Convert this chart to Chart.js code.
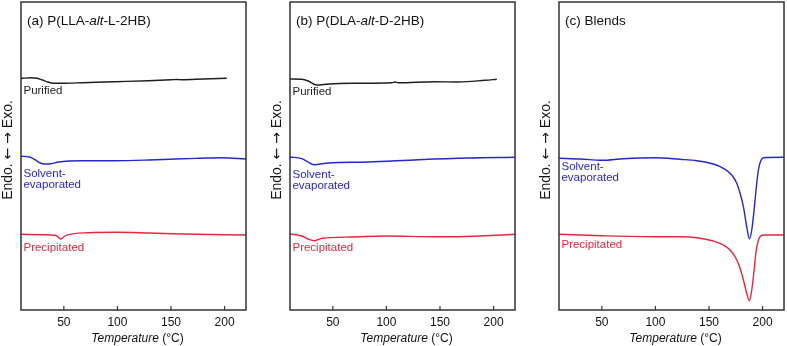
<!DOCTYPE html>
<html><head><meta charset="utf-8">
<script src="https://cdn.jsdelivr.net/npm/chart.js@4/dist/chart.umd.min.js"></script>
<style>
html,body{margin:0;padding:0;background:#fff;width:787px;height:346px;overflow:hidden}
canvas{position:absolute;top:0}
</style></head><body>
<canvas id="ca" width="248" height="346" style="left:0px"></canvas>
<canvas id="cb" width="248" height="346" style="left:269px"></canvas>
<canvas id="cc" width="248" height="346" style="left:538px"></canvas>
<script>
// ---- data (temperature in °C, heat flow in arbitrary offset units; up = exo) ----
const tickTemps = [50, 100, 150, 200];

// (a) P(LLA-alt-L-2HB)
const aPurifiedT = [10, 20, 25, 30, 35, 40, 50, 67, 98, 129, 150, 155, 160, 180, 202];
const aPurifiedY = [231.7, 232.2, 231.7, 230, 228, 226.8, 226.8, 227.3, 228.3, 229.3, 230.2, 230.5, 230.3, 231, 231.7];
const aSolventT = [10, 18, 23, 28, 32, 38, 45, 67, 98, 129, 154, 176, 197, 220];
const aSolventY = [153.7, 153, 150.3, 147, 146, 146.3, 148, 149.3, 149.3, 150, 151, 151.7, 152.3, 151];
const aPrecipT = [10, 29, 42, 45, 47, 49.5, 54, 73, 98, 129, 160, 220];
const aPrecipY = [75.7, 75.3, 74.7, 72.7, 71, 73, 75.3, 77.3, 77.7, 77, 76, 75];

// (b) P(DLA-alt-D-2HB)
const bPurifiedT = [10, 21, 27, 35, 46, 68, 105, 108, 111, 145, 167, 192, 203];
const bPurifiedY = [231, 230.7, 229, 225, 226, 226.7, 227.3, 228, 227.3, 228.3, 228, 229.7, 230.7];
const bSolventT = [10, 21, 27, 32, 46, 83, 130, 176, 220];
const bSolventY = [153, 151.3, 148, 145.3, 147, 148, 150.3, 152, 152.7];
const bPrecipT = [10, 21, 27, 33, 40, 68, 99, 145, 167, 220];
const bPrecipY = [76, 74, 71, 69.3, 71.7, 73, 74, 73.3, 73.3, 75.7];

// (c) Blends
const cSolventT = [10, 30, 50, 70, 100, 123, 138.6, 154, 163.4, 171.2, 175.9, 179, 182.1, 185.2, 187.7, 189.9, 192.1, 193.9, 196.1, 198.3, 200.8, 220];
const cSolventY = [151.7, 151, 149.7, 151.3, 152.3, 150.7, 149.3, 146, 141.7, 135, 126.7, 116.7, 103.3, 83.3, 71, 80, 100, 120, 140, 149.3, 152.3, 152.7];
const cPrecipT = [10, 50, 100, 123, 138.6, 154, 163.4, 171.2, 175.9, 179, 182.1, 185.2, 187.7, 189.9, 192.1, 193.9, 196.1, 198.3, 200.8, 220];
const cPrecipY = [75.7, 74.3, 73.3, 73.3, 72.3, 69, 65, 58.3, 50, 41.7, 30, 16.7, 9.3, 20, 40, 58.3, 70, 74, 75, 75];

const panelTitles = [
  [['(a) P(LLA-', false], ['alt', true], ['-L-2HB)', false]],
  [['(b) P(DLA-', false], ['alt', true], ['-D-2HB)', false]],
  [['(c) Blends', false]]
];
const seriesNames = ['Purified', 'Solvent-', 'evaporated', 'Precipitated'];
const xTitle = [['Temperature', true], [' (\u00B0C)', false]];

// ---- styling ----
const FONT = "'Liberation Sans', Arial, Helvetica, sans-serif";
const ARROWFONT = "'DejaVu Sans', sans-serif";
const BLACK = '#1e1e1e', BLUE = '#2626cc', RED = '#e4283f';
// y-axis title parts: [text, italic, fontFamily]
const yTitle = [['Endo. ', false, FONT], ['\u2190', false, ARROWFONT], [' ', false, FONT], ['\u2192', false, ARROWFONT], [' Exo.', false, FONT]];

function mk(T, Y) { return T.map((t, i) => ({ x: t, y: Y[i] })); }
function ds(T, Y, color) {
  return { data: mk(T, Y), borderColor: color, borderWidth: 1.4, pointRadius: 0,
           cubicInterpolationMode: 'monotone', fill: false };
}

function drawRich(ctx, parts, x, y, size, align) {
  let total = 0;
  const fontOf = p => (p[1] ? 'italic ' : '') + size + 'px ' + (p[2] || FONT);
  const widths = parts.map(p => {
    ctx.font = fontOf(p);
    const w = ctx.measureText(p[0]).width; total += w; return w;
  });
  let cx = align === 'center' ? x - total / 2 : x;
  parts.forEach((p, i) => {
    ctx.font = fontOf(p);
    ctx.fillText(p[0], cx, y); cx += widths[i];
  });
}

function makeChart(id, datasets, title, labels) {
  const deco = {
    id: 'deco',
    afterDatasetsDraw(chart) {
      const { ctx, chartArea: a, scales } = chart;
      ctx.save();
      ctx.strokeStyle = '#333'; ctx.lineWidth = 1.5;
      ctx.strokeRect(a.left, a.top, a.right - a.left, a.bottom - a.top);
      ctx.lineWidth = 1.2;
      tickTemps.forEach(v => {
        const px = scales.x.getPixelForValue(v);
        ctx.beginPath(); ctx.moveTo(px, a.bottom); ctx.lineTo(px, a.bottom - 4); ctx.stroke();
      });
      ctx.textBaseline = 'alphabetic'; ctx.textAlign = 'left';
      ctx.fillStyle = '#111';
      drawRich(ctx, title, a.left + 6, a.top + 23, 13.5, 'left');
      drawRich(ctx, xTitle, (a.left + a.right) / 2 + 4, 341.5, 12, 'center');
      // rotated y-axis title
      ctx.save();
      ctx.translate(a.left - 13, (a.top + a.bottom) / 2 - 6);
      ctx.rotate(-Math.PI / 2);
      ctx.textBaseline = 'middle';
      drawRich(ctx, yTitle, 0, 0, 14, 'center');
      ctx.restore();
      labels.forEach(l => {
        ctx.fillStyle = l.color;
        ctx.font = '11.5px ' + FONT;
        ctx.fillText(l.text, scales.x.getPixelForValue(l.x), scales.y.getPixelForValue(l.y));
      });
      ctx.restore();
    }
  };
  return new Chart(document.getElementById(id), {
    type: 'line',
    data: { datasets },
    options: {
      responsive: false, animation: false,
      layout: { padding: { left: 0, right: 2, top: 2, bottom: 0 } },
      plugins: { legend: { display: false }, tooltip: { enabled: false } },
      scales: {
        x: {
          type: 'linear', min: 10, max: 220,
          grid: { display: false, drawTicks: false }, border: { display: false },
          afterBuildTicks: s => { s.ticks = tickTemps.map(v => ({ value: v })); },
          ticks: { font: { family: FONT, size: 12 }, color: '#111', padding: 5, maxRotation: 0, autoSkip: false },
          afterFit: s => { s.height = 36; }
        },
        y: {
          min: 0, max: 308,
          grid: { display: false, drawTicks: false }, border: { display: false },
          ticks: { display: false },
          afterFit: s => { s.width = 21; }
        }
      }
    },
    plugins: [deco]
  });
}

makeChart('ca', [ds(aPurifiedT, aPurifiedY, BLACK), ds(aSolventT, aSolventY, BLUE), ds(aPrecipT, aPrecipY, RED)],
  panelTitles[0],
  [{ text: seriesNames[0], x: 12.3, y: 216, color: BLACK },
   { text: seriesNames[1], x: 12.3, y: 133.5, color: BLUE },
   { text: seriesNames[2], x: 12.3, y: 122, color: BLUE },
   { text: seriesNames[3], x: 12.3, y: 59, color: RED }]);
makeChart('cb', [ds(bPurifiedT, bPurifiedY, BLACK), ds(bSolventT, bSolventY, BLUE), ds(bPrecipT, bPrecipY, RED)],
  panelTitles[1],
  [{ text: seriesNames[0], x: 12.3, y: 215.5, color: BLACK },
   { text: seriesNames[1], x: 12.3, y: 132.5, color: BLUE },
   { text: seriesNames[2], x: 12.3, y: 121.5, color: BLUE },
   { text: seriesNames[3], x: 12.3, y: 59, color: RED }]);
makeChart('cc', [ds(cSolventT, cSolventY, BLUE), ds(cPrecipT, cPrecipY, RED)],
  panelTitles[2],
  [{ text: seriesNames[1], x: 12.3, y: 140, color: BLUE },
   { text: seriesNames[2], x: 12.3, y: 129.5, color: BLUE },
   { text: seriesNames[3], x: 12.3, y: 62.5, color: RED }]);
</script>
</body></html>
